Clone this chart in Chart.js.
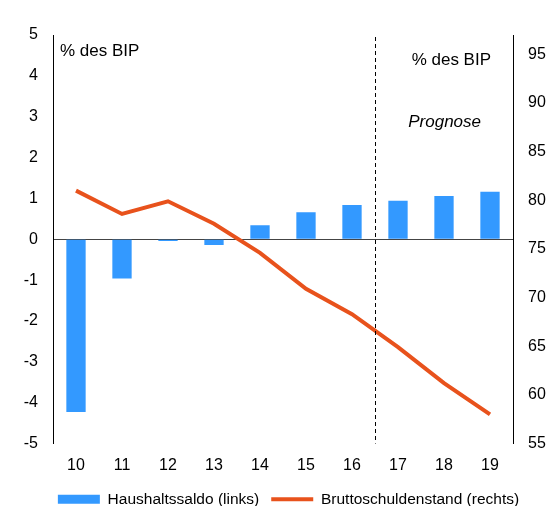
<!DOCTYPE html>
<html>
<head>
<meta charset="utf-8">
<script src="https://cdn.jsdelivr.net/npm/chart.js@4/dist/chart.umd.min.js"></script>
<style>
  html, body { margin: 0; padding: 0; background: #fff; }
  #wrap { width: 553px; height: 506px; }
</style>
</head>
<body>
<div id="wrap"><canvas id="chart" width="553" height="506"></canvas></div>
<script>
// data
const years = ["10", "11", "12", "13", "14", "15", "16", "17", "18", "19"];
const haushaltssaldo = [-4.23, -0.96, -0.04, -0.14, 0.34, 0.66, 0.84, 0.94, 1.06, 1.16];
const bruttoschulden = [81.0, 78.6, 79.9, 77.6, 74.6, 70.9, 68.3, 64.9, 61.2, 58.0];
const leftTicks = [-5, -4, -3, -2, -1, 0, 1, 2, 3, 4, 5];
const rightTicks = [55, 60, 65, 70, 75, 80, 85, 90, 95];
const forecastFrom = "17";

const blue = "#3399ff";
const orange = "#e8521c";
const font = "'Liberation Sans', Arial, sans-serif";

Chart.defaults.font.family = font;
Chart.defaults.color = "#000";

// dashed forecast line + the text labels inside the plot
const notes = {
  id: "notes",
  afterLayout(chart) {
    // legend sits a bit right of centre in the original
    chart.legend.left += 12;
    chart.legend.right += 12;
  },
  afterDatasetsDraw(chart) {
    const { ctx, chartArea, scales } = chart;
    const i = years.indexOf(forecastFrom);
    const xd = Math.round((scales.x.getPixelForValue(i - 1) + scales.x.getPixelForValue(i)) / 2) + 0.5;
    ctx.save();
    ctx.strokeStyle = "#000";
    ctx.lineWidth = 1;
    ctx.setLineDash([4, 3]);
    ctx.beginPath();
    ctx.moveTo(xd, chartArea.top + 2);
    ctx.lineTo(xd, chartArea.bottom);
    ctx.stroke();
    ctx.setLineDash([]);

    ctx.fillStyle = "#000";
    ctx.textBaseline = "middle";
    ctx.font = "17px " + font;
    ctx.textAlign = "left";
    ctx.fillText("% des BIP", chartArea.left + 7, chartArea.top + 16);
    ctx.textAlign = "right";
    ctx.fillText("% des BIP", chartArea.right - 22, chartArea.top + 25);
    ctx.font = "italic 17px " + font;
    ctx.fillText("Prognose", chartArea.right - 32, chartArea.top + 87);
    ctx.restore();
  }
};

new Chart(document.getElementById("chart"), {
  data: {
    labels: years,
    datasets: [
      {
        type: "bar",
        label: "Haushaltssaldo (links)",
        data: haushaltssaldo,
        backgroundColor: blue,
        borderWidth: 0,
        barPercentage: 0.42,
        categoryPercentage: 1,
        yAxisID: "y",
        order: 2
      },
      {
        type: "line",
        label: "Bruttoschuldenstand (rechts)",
        data: bruttoschulden,
        borderColor: orange,
        backgroundColor: orange,
        borderWidth: 4,
        pointRadius: 0,
        tension: 0,
        yAxisID: "y1",
        order: 1
      }
    ]
  },
  options: {
    responsive: false,
    animation: false,
    layout: { padding: { top: 35, left: 0, right: 0, bottom: -11 } },
    plugins: {
      tooltip: { enabled: false },
      legend: {
        position: "bottom",
        labels: {
          usePointStyle: true,
          pointStyleWidth: 42,
          boxHeight: 9,
          padding: 12,
          font: { size: 15.5 },
          color: "#000",
          generateLabels(chart) {
            const items = Chart.defaults.plugins.legend.labels.generateLabels(chart);
            items.sort((a, b) => a.datasetIndex - b.datasetIndex);
            items.forEach(it => {
              if (it.datasetIndex === 0) {
                it.pointStyle = "rect";
                it.lineWidth = 0;
                it.strokeStyle = blue;
              } else {
                it.pointStyle = "line";
                it.lineWidth = 4;
                it.strokeStyle = orange;
              }
            });
            return items;
          }
        }
      }
    },
    scales: {
      x: {
        grid: { display: false, drawTicks: false },
        border: { display: false },
        ticks: { font: { size: 16 }, padding: 12, color: "#000" },
        afterFit(s) { s.height = 36; }
      },
      y: {
        position: "left",
        min: -5,
        max: 5,
        afterBuildTicks(s) { s.ticks = leftTicks.map(v => ({ value: v })); },
        grid: {
          drawTicks: false,
          color: c => c.tick && c.tick.value === 0 ? "#444" : "rgba(0,0,0,0)",
          lineWidth: 1
        },
        border: { display: true, color: "#000", width: 1 },
        ticks: { font: { size: 16 }, padding: 15, color: "#000" },
        afterFit(s) { s.width = 53; }
      },
      y1: {
        position: "right",
        min: 55,
        max: 97,
        afterBuildTicks(s) { s.ticks = rightTicks.map(v => ({ value: v })); },
        grid: { display: false, drawTicks: false },
        border: { display: true, color: "#000", width: 1 },
        ticks: { font: { size: 16 }, padding: 15, color: "#000" },
        afterFit(s) { s.width = 40; }
      }
    }
  },
  plugins: [notes]
});
</script>
</body>
</html>
